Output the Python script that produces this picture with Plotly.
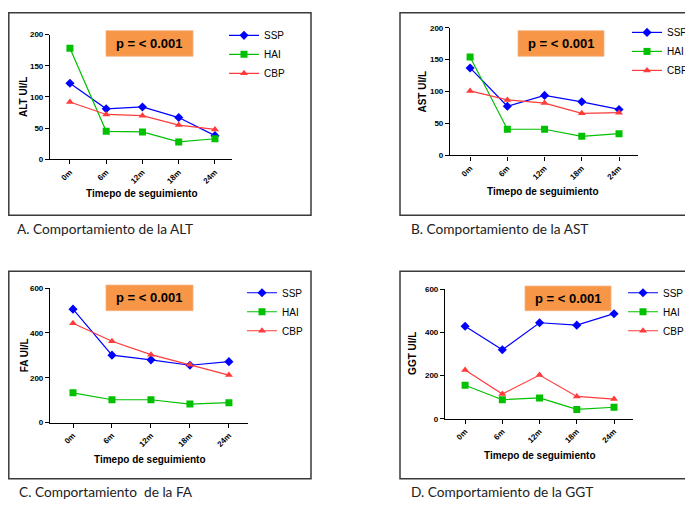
import plotly.graph_objects as go

W, H = 693, 512
OFF = 8  # page body margin of the rendered html

categories = ["0m", "6m", "12m", "18m", "24m"]
series_names = ["SSP", "HAI", "CBP"]

alt_ssp = [122, 81, 84, 67, 38]
alt_hai = [178, 45, 44, 28, 33]
alt_cbp = [92, 72, 70, 55, 48]

ast_ssp = [137, 77, 94, 84, 72]
ast_hai = [154, 41, 41, 30, 34]
ast_cbp = [101, 87, 82, 66, 67]

fa_ssp = [506, 301, 280, 256, 272]
fa_hai = [133, 102, 102, 83, 89]
fa_cbp = [443, 363, 303, 258, 212]

ggt_ssp = [428, 319, 444, 433, 486]
ggt_hai = [155, 88, 96, 43, 53]
ggt_cbp = [225, 114, 202, 103, 91]

y_titles = ["ALT UI/L", "AST UI/L", "FA UI/L", "GGT UI/L"]
x_title = "Timepo de seguimiento"
captions = ["A. Comportamiento de la ALT", "B. Comportamiento de la AST",
            "C. Comportamiento  de la FA", "D. Comportamiento de la GGT"]
p_text = "p = < 0.001"
y_ticks_small = [0, 50, 100, 150, 200]
y_ticks_big = [0, 200, 400, 600]

colors = ["#0000ff", "#00c000", "#ff3b3b"]
symbols = ["diamond", "square", "triangle-up"]
msizes = [7, 7, 7]


def px(x):
    return (x - OFF) / W


def py(y):
    return 1 - (y - OFF) / H


panels = [
    dict(data=[alt_ssp, alt_hai, alt_cbp], ymax=200, ticks=y_ticks_small,
         xd=(50, 232), yd=(158, 31), xr=(-0.55, 4.47),
         frame=(8.8, 8.8, 311, 215), box=(106, 27, 193, 53),
         leg=(224, 17), ytx=24, xtx=(142, 193), cap=(15, 228)),
    dict(data=[ast_ssp, ast_hai, ast_cbp], ymax=200, ticks=y_ticks_small,
         xd=(450, 638), yd=(154, 24), xr=(-0.54, 4.51),
         frame=(400, 8.8, 710, 215), box=(518, 27, 604, 53),
         leg=(627, 14), ytx=423, xtx=(543, 191), cap=(409, 228)),
    dict(data=[fa_ssp, fa_hai, fa_cbp], ymax=600, ticks=y_ticks_big,
         xd=(50, 248), yd=(426, 289), xr=(-0.59, 4.49),
         frame=(8.8, 272, 311, 483), box=(106, 286, 193, 312),
         leg=(242, 279), ytx=24, xtx=(150, 464), cap=(17, 496)),
    dict(data=[ggt_ssp, ggt_hai, ggt_cbp], ymax=600, ticks=y_ticks_big,
         xd=(445, 633), yd=(422, 290), xr=(-0.54, 4.51),
         frame=(400, 272, 710, 483), box=(525, 287, 611, 312),
         leg=(623, 279), ytx=413, xtx=(540, 459), cap=(409, 496)),
]

fig = go.Figure()
shapes = []
annotations = []
layout_axes = {}

narrow = "Liberation Sans Narrow, Arial Narrow, Liberation Sans, Arial"

for i, p in enumerate(panels):
    n = "" if i == 0 else str(i + 1)
    legname = "legend" if i == 0 else "legend" + str(i + 1)
    for j, name in enumerate(series_names):
        fig.add_trace(go.Scatter(
            x=categories, y=p["data"][j], name=name, mode="lines+markers",
            xaxis="x" + n, yaxis="y" + n, legend=legname,
            line=dict(color=colors[j], width=1.2),
            marker=dict(color=colors[j], symbol=symbols[j], size=msizes[j], line=dict(width=0)),
        ))
    layout_axes["xaxis" + n] = dict(
        domain=[px(p["xd"][0]), px(p["xd"][1])], anchor="y" + n,
        type="category", range=list(p["xr"]), showgrid=False, zeroline=False,
        showline=True, linecolor="black", linewidth=1.2,
        ticks="outside", ticklen=4, tickwidth=1, tickcolor="black",
        tickangle=-45, tickfont=dict(family=narrow, size=8, color="black", weight="bold"),
    )
    layout_axes["yaxis" + n] = dict(
        domain=[py(p["yd"][0]), py(p["yd"][1])], anchor="x" + n,
        range=[0, p["ymax"]], tickvals=p["ticks"], showgrid=False, zeroline=False,
        showline=True, linecolor="black", linewidth=1.2,
        ticks="outside", ticklen=4, tickwidth=1, tickcolor="black",
        tickfont=dict(family=narrow, size=8, color="black", weight="bold"),
    )
    layout_axes[legname] = dict(
        x=px(p["leg"][0]), y=py(p["leg"][1]), xanchor="left", yanchor="top",
        bgcolor="rgba(0,0,0,0)", borderwidth=0,
        font=dict(family="Liberation Sans, Arial", size=10, color="black"),
        tracegroupgap=0, itemwidth=30,
    )
    fx0, fy0, fx1, fy1 = p["frame"]
    shapes.append(dict(type="rect", xref="paper", yref="paper",
                       x0=px(fx0), x1=px(fx1), y0=py(fy1), y1=py(fy0),
                       line=dict(color="#3a3a3a", width=1.5), fillcolor="rgba(0,0,0,0)"))
    bx0, by0, bx1, by1 = p["box"]
    shapes.append(dict(type="rect", xref="paper", yref="paper",
                       x0=px(bx0), x1=px(bx1), y0=py(by1), y1=py(by0),
                       line=dict(color="#f4b183", width=0.8), fillcolor="#f79646"))
    annotations.append(dict(xref="paper", yref="paper", x=px((bx0 + bx1) / 2), y=py((by0 + by1) / 2),
                            text="<b>" + p_text + "</b>", showarrow=False,
                            font=dict(family="Liberation Sans, Arial", size=13, color="black"),
                            xanchor="center", yanchor="middle"))
    annotations.append(dict(xref="paper", yref="paper", x=px(p["ytx"]), y=py((p["yd"][0] + p["yd"][1]) / 2),
                            text="<b>" + y_titles[i] + "</b>", showarrow=False, textangle=-90,
                            font=dict(family="Liberation Sans, Arial", size=10, color="black"),
                            xanchor="center", yanchor="middle"))
    annotations.append(dict(xref="paper", yref="paper", x=px(p["xtx"][0]), y=py(p["xtx"][1]),
                            text="<b>" + x_title + "</b>", showarrow=False,
                            font=dict(family=narrow, size=10, color="black"),
                            xanchor="center", yanchor="middle"))
    annotations.append(dict(xref="paper", yref="paper", x=px(p["cap"][0]), y=py(p["cap"][1]),
                            text=captions[i], showarrow=False,
                            font=dict(family="Lato, Open Sans, sans-serif", size=13.7, color="#222222"),
                            xanchor="left", yanchor="middle"))

fig.update_layout(
    width=W, height=H, margin=dict(l=0, r=0, t=0, b=0),
    paper_bgcolor="white", plot_bgcolor="white",
    shapes=shapes, annotations=annotations, **layout_axes,
)

fig.write_html("out.html")
